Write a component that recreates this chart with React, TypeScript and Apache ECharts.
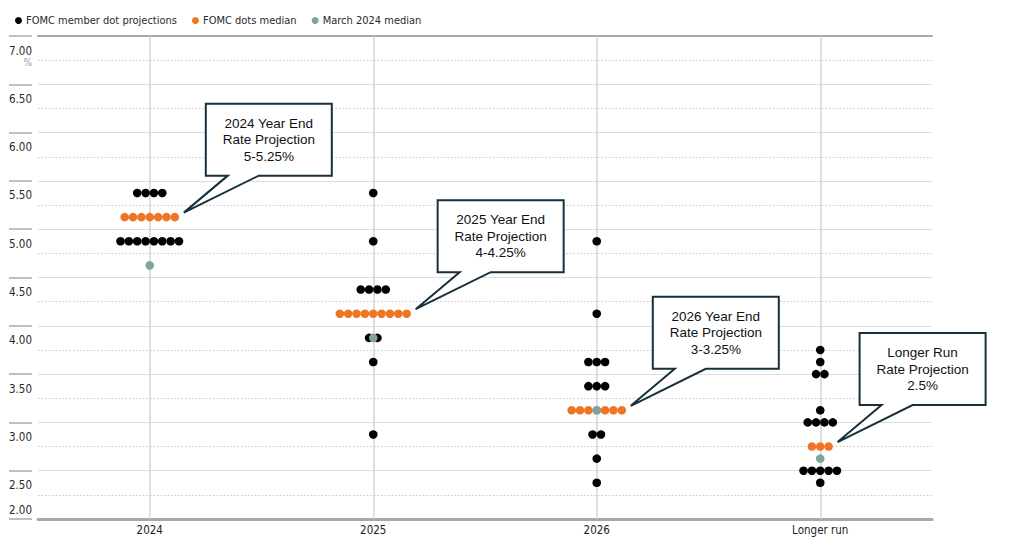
import React, { useEffect, useRef } from "react";
import * as echarts from "echarts";

// ---- Data ----
const categories = ["2024", "2025", "2026", "Longer run"];

// [rate, number of participants] rows of member dots (excluding median row)
const memberDots2024 = [[5.375, 4], [4.875, 8]];
const memberDots2025 = [[5.375, 1], [4.875, 1], [4.375, 4], [3.875, 2], [3.625, 1], [2.875, 1]];
const memberDots2026 = [[4.875, 1], [4.125, 1], [3.625, 3], [3.375, 3], [2.875, 2], [2.625, 1], [2.375, 1]];
const memberDotsLongerRun = [[3.75, 1], [3.625, 1], [3.5, 2], [3.125, 1], [3.0, 4], [2.5, 5], [2.375, 1]];

const medianRates = [5.125, 4.125, 3.125, 2.75];
const medianCounts = [7, 9, 7, 3];
const marchMedians = [4.625, 3.875, 3.125, 2.625];

const calloutTexts = [
  "2024 Year End\nRate Projection\n5-5.25%",
  "2025 Year End\nRate Projection\n4-4.25%",
  "2026 Year End\nRate Projection\n3-3.25%",
  "Longer Run\nRate Projection\n2.5%",
];

const yTickLabels = ["2.00", "2.50", "3.00", "3.50", "4.00", "4.50", "5.00", "5.50", "6.00", "6.50", "7.00"];

// ---- Styling ----
const NARROW = '"DejaVu Sans Condensed", "Liberation Sans Narrow", Roboto, sans-serif';
const CALLOUT_FONT = '"Liberation Sans", Arial, sans-serif';
const BLACK = "#000000";
const ORANGE = "#EF7526";
const TEAL = "#7FA39F";
const DOT_SIZE = 8.6;
const DOT_STEP = 8.35;

function rowPoints(catIndex: number, rate: number, count: number) {
  const pts: any[] = [];
  for (let k = 0; k < count; k++) {
    const dx = (k - (count - 1) / 2) * DOT_STEP;
    pts.push({ value: [catIndex, rate], symbolOffset: [dx, 0] });
  }
  return pts;
}

export default function App() {
  const ref = useRef<HTMLDivElement>(null);

  useEffect(() => {
    document.body.style.margin = "0";
    const chart = echarts.init(ref.current!, null, { renderer: "svg" });

    const memberRows = [memberDots2024, memberDots2025, memberDots2026, memberDotsLongerRun];
    const memberData: any[] = [];
    memberRows.forEach((rows, ci) => {
      rows.forEach(([rate, count]) => memberData.push(...rowPoints(ci, rate, count)));
    });
    const medianData: any[] = [];
    medianRates.forEach((r, ci) => medianData.push(...rowPoints(ci, r, medianCounts[ci])));
    const marchData = marchMedians.map((r, ci) => ({ value: [ci, r] }));

    const option: any = {
      animation: false,
      legend: {
        left: 10,
        top: 10,
        icon: "circle",
        itemWidth: 7,
        itemHeight: 7,
        itemGap: 15,
        textStyle: { fontFamily: NARROW, fontSize: 11, color: "#2a2a2a", padding: [0, 0, 0, -1] },
        data: ["FOMC member dot projections", "FOMC dots median", "March 2024 median"],
      },
      grid: { left: 38, right: 90, top: 36, bottom: 40, containLabel: false },
      xAxis: [
        {
          type: "category",
          data: categories,
          boundaryGap: true,
          axisLine: { show: true, lineStyle: { color: "#a8a8a8", width: 3 } },
          axisTick: { show: false },
          axisLabel: { fontFamily: NARROW, fontSize: 11.5, color: "#222", margin: 5 },
          splitLine: { show: false },
        },
        {
          type: "category",
          data: categories,
          position: "top",
          axisLine: { show: true, lineStyle: { color: "#a8a8a8", width: 2 } },
          axisTick: { show: false },
          axisLabel: { show: false },
          splitLine: { show: false },
        },
      ],
      yAxis: [
        {
          type: "value",
          min: 2,
          max: 7,
          interval: 0.5,
          axisLine: { show: false },
          axisTick: { show: false },
          splitLine: { show: true, lineStyle: { color: "#dcdcdc", width: 1 } },
          minorTick: { show: false, splitNumber: 2 },
          minorSplitLine: { show: true, lineStyle: { color: "#c8c8c8", width: 1, type: [1.5, 2] } },
          axisLabel: {
            showMinLabel: true,
            showMaxLabel: true,
            margin: 6,
            verticalAlign: "top",
            padding: [8, 0, 0, 0],
            formatter: (v: number) => {
              const idx = Math.round((v - 2) / 0.5);
              const t = yTickLabels[idx] || "";
              if (idx === 0) return "";
              if (idx === yTickLabels.length - 1) return "{n|" + t + "}\n{p|%}";
              return "{n|" + t + "}";
            },
            rich: {
              n: { fontFamily: NARROW, fontSize: 11.5, lineHeight: 13, color: "#2a2a2a", align: "right" },
              p: { fontFamily: NARROW, fontSize: 10, lineHeight: 10, color: "#9a9a9a", align: "right" },
            },
          },
        },
        {
          type: "value",
          min: 2,
          max: 7,
          interval: 0.5,
          position: "left",
          offset: 6,
          axisLine: { show: false },
          axisTick: { show: true, length: 23, lineStyle: { color: "#ababab", width: 1.5 } },
          splitLine: { show: false },
          axisLabel: {
            showMinLabel: true,
            showMaxLabel: true,
            margin: 0,
            verticalAlign: "bottom",
            padding: [0, 0, 3, 0],
            fontFamily: NARROW,
            fontSize: 11.5,
            lineHeight: 13,
            color: "#2a2a2a",
            formatter: (v: number) => (Math.round((v - 2) / 0.5) === 0 ? yTickLabels[0] : ""),
          },
        },
      ],
      series: [
        {
          name: "__verticals",
          type: "line",
          data: [],
          z: 1,
          silent: true,
          markLine: {
            silent: true,
            symbol: ["none", "none"],
            label: { show: false },
            lineStyle: { color: "#d4d4d4", width: 1.5, type: "solid" },
            data: categories.map((c) => ({ xAxis: c })),
          },
        },
        {
          name: "FOMC member dot projections",
          type: "scatter",
          symbol: "circle",
          symbolSize: DOT_SIZE,
          itemStyle: { color: BLACK, opacity: 1 },
          z: 10,
          data: memberData,
        },
        {
          name: "FOMC dots median",
          type: "scatter",
          symbol: "circle",
          symbolSize: DOT_SIZE,
          itemStyle: { color: ORANGE, opacity: 1 },
          z: 11,
          data: medianData,
        },
        {
          name: "March 2024 median",
          type: "scatter",
          symbol: "circle",
          symbolSize: DOT_SIZE,
          itemStyle: { color: TEAL, opacity: 1 },
          z: 12,
          data: marchData,
        },
      ],
    };

    chart.setOption(option);

    // Callouts anchored to the end of each median row
    const graphics: any[] = [];
    medianRates.forEach((r, ci) => {
      const p = chart.convertToPixel({ xAxisIndex: 0, yAxisIndex: 0 }, [ci, r]) as number[];
      const lastDx = ((medianCounts[ci] - 1) / 2) * DOT_STEP;
      const tx = p[0] + lastDx + 9;
      const ty = p[1] - 4.5;
      const L = tx + 22;
      const R = L + 126;
      const T = ty - 109;
      const B = T + 72;
      const pb1 = tx + 44;
      const pb2 = tx + 75;
      graphics.push({
        type: "polygon",
        z: 100,
        shape: {
          points: [
            [L, T],
            [R, T],
            [R, B],
            [pb2, B],
            [tx, ty],
            [pb1, B],
            [L, B],
          ],
        },
        style: { fill: "#ffffff", stroke: "#17303c", lineWidth: 2, lineJoin: "miter" },
      });
      graphics.push({
        type: "text",
        z: 101,
        x: (L + R) / 2,
        y: (T + B) / 2,
        style: {
          text: calloutTexts[ci],
          align: "center",
          verticalAlign: "middle",
          fontFamily: CALLOUT_FONT,
          fontSize: 13.5,
          lineHeight: 16.5,
          fill: "#111111",
        },
      });
    });
    chart.setOption({ graphic: graphics });

    return () => chart.dispose();
  }, []);

  return (
    <div
      ref={ref}
      style={{ position: "absolute", left: 0, top: 0, width: 1022, height: 559, background: "#ffffff" }}
    />
  );
}
